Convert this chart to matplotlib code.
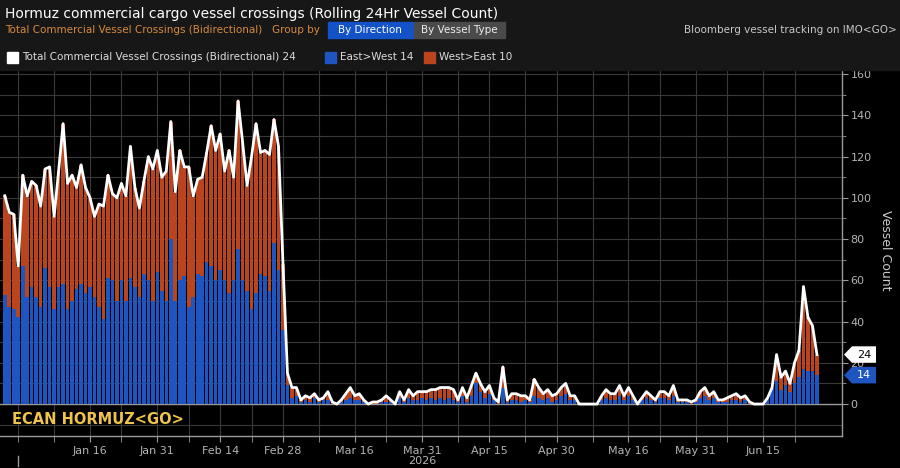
import matplotlib
matplotlib.use("Agg")
import matplotlib.pyplot as plt
import matplotlib.transforms as mtransforms
from matplotlib.patches import Rectangle, Polygon
import pandas as pd

# daily rolling 24h counts, Dec 28 2025 .. Jun 27 2026
dates = pd.date_range("2025-12-28", "2026-06-27", freq="D")

total = [101, 93, 92, 67, 111, 101, 108, 106, 96, 114, 115, 91, 113, 136, 107, 111,
         105, 116, 105, 100, 91, 97, 96, 111, 102, 100, 107, 101, 125, 105, 95, 108,
         120, 114, 123, 110, 113, 137, 103, 123, 115, 115, 101, 109, 110, 122, 135, 123,
         131, 113, 123, 110, 147, 127, 106, 120, 136, 122, 123, 121, 138, 125,
         68, 15, 8, 8, 2, 4, 3, 5, 2, 3, 6, 1, 0, 2, 5, 8,
         4, 5, 2, 0, 1, 1, 2, 4, 2, 0, 6, 2, 7, 4, 6, 6,
         6, 7, 7, 8, 8, 8, 7, 2, 8, 3, 9, 15, 10, 6, 9, 3,
         1, 18, 2, 5, 5, 4, 4, 2, 12, 8, 5, 7, 4, 5, 8, 10,
         4, 4, 0, 0, 0, 0, 0, 4, 7, 5, 5, 9, 4, 8, 4, 0,
         3, 6, 4, 2, 6, 6, 4, 9, 2, 2, 2, 1, 2, 6, 8, 4,
         6, 2, 2, 3, 4, 5, 3, 4, 1, 0, 0, 0, 3, 8, 24, 13,
         16, 10, 20, 26, 57, 42, 38, 24]

east_west = [53, 47, 46, 42, 67, 52, 57, 52, 47, 66, 57, 46, 57, 58, 46, 50,
             56, 58, 54, 57, 52, 47, 41, 61, 60, 50, 60, 50, 61, 57, 52, 63,
             60, 50, 64, 55, 50, 80, 50, 60, 62, 47, 52, 63, 62, 69, 67, 60,
             65, 60, 54, 60, 75, 60, 55, 46, 54, 63, 62, 55, 78, 65,
             36, 9, 3, 4, 1, 2, 1, 3, 1, 2, 2, 0, 0, 1, 2, 3,
             2, 2, 1, 0, 0, 0, 1, 1, 1, 0, 3, 1, 3, 2, 2, 3,
             2, 3, 2, 3, 2, 3, 2, 1, 4, 1, 4, 10, 6, 3, 5, 2,
             0, 8, 1, 2, 2, 1, 2, 1, 4, 3, 2, 3, 1, 2, 4, 5,
             2, 2, 0, 0, 0, 0, 0, 2, 3, 2, 2, 4, 2, 4, 2, 0,
             2, 3, 2, 1, 3, 3, 2, 4, 1, 1, 1, 0, 1, 3, 4, 2,
             3, 1, 1, 1, 2, 2, 1, 2, 0, 0, 0, 0, 3, 8, 11, 7,
             9, 6, 10, 13, 17, 16, 16, 14]

west_east = [t - e for t, e in zip(total, east_west)]

grid_dates = ["2025-12-31", "2026-01-08", "2026-01-16", "2026-01-23", "2026-01-31",
              "2026-02-07", "2026-02-14", "2026-02-21", "2026-02-28", "2026-03-08",
              "2026-03-16", "2026-03-23", "2026-03-31", "2026-04-08", "2026-04-15",
              "2026-04-23", "2026-04-30", "2026-05-08", "2026-05-16", "2026-05-23",
              "2026-05-31", "2026-06-07", "2026-06-15", "2026-06-22"]
label_dates = ["2026-01-16", "2026-01-31", "2026-02-14", "2026-02-28", "2026-03-16",
               "2026-03-31", "2026-04-15", "2026-04-30", "2026-05-16", "2026-05-31",
               "2026-06-15"]
labels = ["Jan 16", "Jan 31", "Feb 14", "Feb 28", "Mar 16", "Mar 31", "Apr 15",
          "Apr 30", "May 16", "May 31", "Jun 15"]

blue = "#1f55c0"
orange = "#b9441d"
grid_c = "#393939"
txt_c = "#b4b4b4"

W, H = 900, 468
fx = lambda px: px / W
fy = lambda py: 1 - py / H

fig = plt.figure(figsize=(9, 4.68), dpi=100, facecolor="black")
fig.patches.append(Rectangle((0, fy(70)), 1, 70 / H, transform=fig.transFigure,
                             color="#171717", zorder=0))

ax = fig.add_axes([0, fy(436), fx(842), (436 - 70) / H])
ax.set_facecolor("black")

ax.bar(dates, east_west, width=0.8, color=blue, zorder=2)
ax.bar(dates, west_east, bottom=east_west, width=0.8, color=orange, zorder=2)
ax.plot(dates, total, color="white", lw=2, zorder=3)

ax.set_xlim(pd.Timestamp("2025-12-26 22:30"), pd.Timestamp("2026-07-02 14:00"))
ax.set_ylim(-15.5, 162)

# grid
for g in grid_dates:
    ax.axvline(pd.Timestamp(g), color=grid_c, lw=0.8, zorder=1)
for v in range(-10, 161, 10):
    ax.axhline(v, color="#9a9a9a" if v == 0 else grid_c, lw=1.0 if v == 0 else 0.8, zorder=1)

ax.yaxis.tick_right()
ax.set_yticks(range(0, 161, 20))
ax.set_yticks(range(0, 161, 10), minor=True)
ax.tick_params(axis="y", which="both", colors="#9a9a9a", labelcolor=txt_c,
               labelsize=8, direction="out", pad=2)
ax.tick_params(axis="y", which="major", length=4)
ax.tick_params(axis="y", which="minor", length=3)

ax.set_xticks([pd.Timestamp(d) for d in label_dates])
ax.set_xticklabels(labels)
ax.set_xticks([pd.Timestamp(d) for d in grid_dates], minor=True)
ax.tick_params(axis="x", which="both", colors="#9a9a9a", labelcolor=txt_c,
               labelsize=8, length=4, direction="out", pad=3)

for s in ["left", "top"]:
    ax.spines[s].set_visible(False)
for s in ["right", "bottom"]:
    ax.spines[s].set_color("#9a9a9a")
    ax.spines[s].set_linewidth(1)

# year label and year-boundary tick
xt = mtransforms.blended_transform_factory(ax.transData, fig.transFigure)
ax.text(pd.Timestamp("2026-03-31"), fy(461), "2026", transform=xt,
        ha="center", va="center", color=txt_c, fontsize=8)
ax.plot([pd.Timestamp("2025-12-31")] * 2, [fy(456), fy(466)], transform=xt,
        color="#9a9a9a", lw=1, clip_on=False)

fig.text(fx(885), fy(250), "Vessel Count", rotation=-90, ha="center", va="center",
         color="#cccccc", fontsize=9)

# value tags
bt = mtransforms.blended_transform_factory(fig.transFigure, ax.transData)
for val, fc, tc in [(total[-1], "white", "black"), (east_west[-1], blue, "white")]:
    x0, x1, x2 = fx(844), fx(852), fx(876)
    poly = Polygon([(x0, val), (x1, val + 4), (x2, val + 4), (x2, val - 4), (x1, val - 4)],
                   closed=True, transform=bt, fc=fc, ec="none", clip_on=False, zorder=5)
    fig.patches.append(poly)
    fig.text(fx(864), val, str(val), transform=bt, ha="center", va="center",
             color=tc, fontsize=8, zorder=6)

ax.text(fx(12), fy(419), "ECAN HORMUZ<GO>", transform=fig.transFigure, color="#f0c44a",
        fontsize=10.5, fontweight="bold", va="center", ha="left", zorder=6)

# header
fig.text(fx(5), fy(14), "Hormuz commercial cargo vessel crossings (Rolling 24Hr Vessel Count)",
         color="white", fontsize=10, va="center", ha="left")
fig.text(fx(5), fy(30), "Total Commercial Vessel Crossings (Bidirectional)", color="#d98a3c",
         fontsize=7.5, va="center", ha="left")
fig.text(fx(272), fy(30), "Group by", color="#d98a3c", fontsize=7.5, va="center", ha="left")
fig.patches.append(Rectangle((fx(328), fy(38)), fx(85), 16 / H, transform=fig.transFigure,
                             color="#1452c8", zorder=1))
fig.text(fx(370), fy(30), "By Direction", color="white", fontsize=7.5, va="center", ha="center")
fig.patches.append(Rectangle((fx(414), fy(38)), fx(91), 16 / H, transform=fig.transFigure,
                             color="#4a4a4a", zorder=1))
fig.text(fx(459), fy(30), "By Vessel Type", color="#eeeeee", fontsize=7.5, va="center", ha="center")
fig.text(fx(897), fy(30), "Bloomberg vessel tracking on IMO<GO>", color="#c8c8c8",
         fontsize=7.5, va="center", ha="right")

# legend row
legend_items = [("white", "Total Commercial Vessel Crossings (Bidirectional) %d" % total[-1], 7),
                (blue, "East>West %d" % east_west[-1], 325),
                (orange, "West>East %d" % west_east[-1], 424)]
for c, t, px in legend_items:
    fig.patches.append(Rectangle((fx(px), fy(63)), fx(11), 11 / H, transform=fig.transFigure,
                                 color=c, zorder=1))
    fig.text(fx(px + 15), fy(57), t, color="#dddddd", fontsize=7.5, va="center", ha="left")

fig.savefig("out.png", dpi=100, facecolor="black")
